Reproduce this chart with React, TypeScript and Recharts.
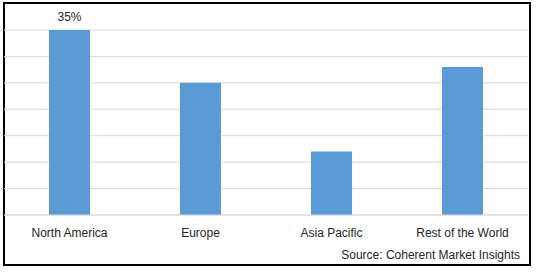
import React from "react";
import { BarChart, Bar, XAxis, YAxis, CartesianGrid, LabelList } from "recharts";

const categories = ["North America", "Europe", "Asia Pacific", "Rest of the World"];
const shares = [35, 25, 12, 28];
const dataLabels = ["35%", "", "", ""];
const yTicks = [0, 5, 10, 15, 20, 25, 30, 35];
const sourceText = "Source: Coherent Market Insights";

const data = categories.map((name, i) => ({ name, value: shares[i], label: dataLabels[i] }));

const FONT = "'Liberation Sans', Arial, sans-serif";

export default function App() {
  return (
    <div style={{ position: "absolute", left: 0, top: 0, width: 538, height: 272, background: "#fff", fontFamily: FONT }}>
      <div
        style={{
          position: "absolute",
          left: 3,
          top: 2,
          width: 528,
          height: 264,
          border: "2px solid #000",
          boxSizing: "border-box",
        }}
      />
      <div style={{ position: "absolute", left: 0, top: 0 }}>
        <BarChart width={538} height={272} data={data} margin={{ top: 30, right: 10, bottom: 0, left: 4 }}>
          <CartesianGrid vertical={false} stroke="#d9d9d9" strokeWidth={1} horizontalPoints={undefined} />
          <YAxis hide domain={[0, 35]} ticks={yTicks} width={0} />
          <XAxis
            dataKey="name"
            height={57}
            axisLine={{ stroke: "#d9d9d9" }}
            tickLine={false}
            tickSize={0}
            tickMargin={13}
            tick={{ fill: "#262626", fontSize: 12, fontFamily: FONT }}
            interval={0}
          />
          <Bar dataKey="value" fill="#5b9bd5" barSize={41} isAnimationActive={false}>
            <LabelList dataKey="label" position="top" offset={9} fill="#262626" fontSize={12} fontFamily={FONT} />
          </Bar>
        </BarChart>
      </div>
      <div
        style={{
          position: "absolute",
          right: 18,
          top: 247,
          fontSize: 12,
          lineHeight: "16px",
          color: "#262626",
          fontFamily: FONT,
          whiteSpace: "nowrap",
        }}
      >
        {sourceText}
      </div>
    </div>
  );
}
